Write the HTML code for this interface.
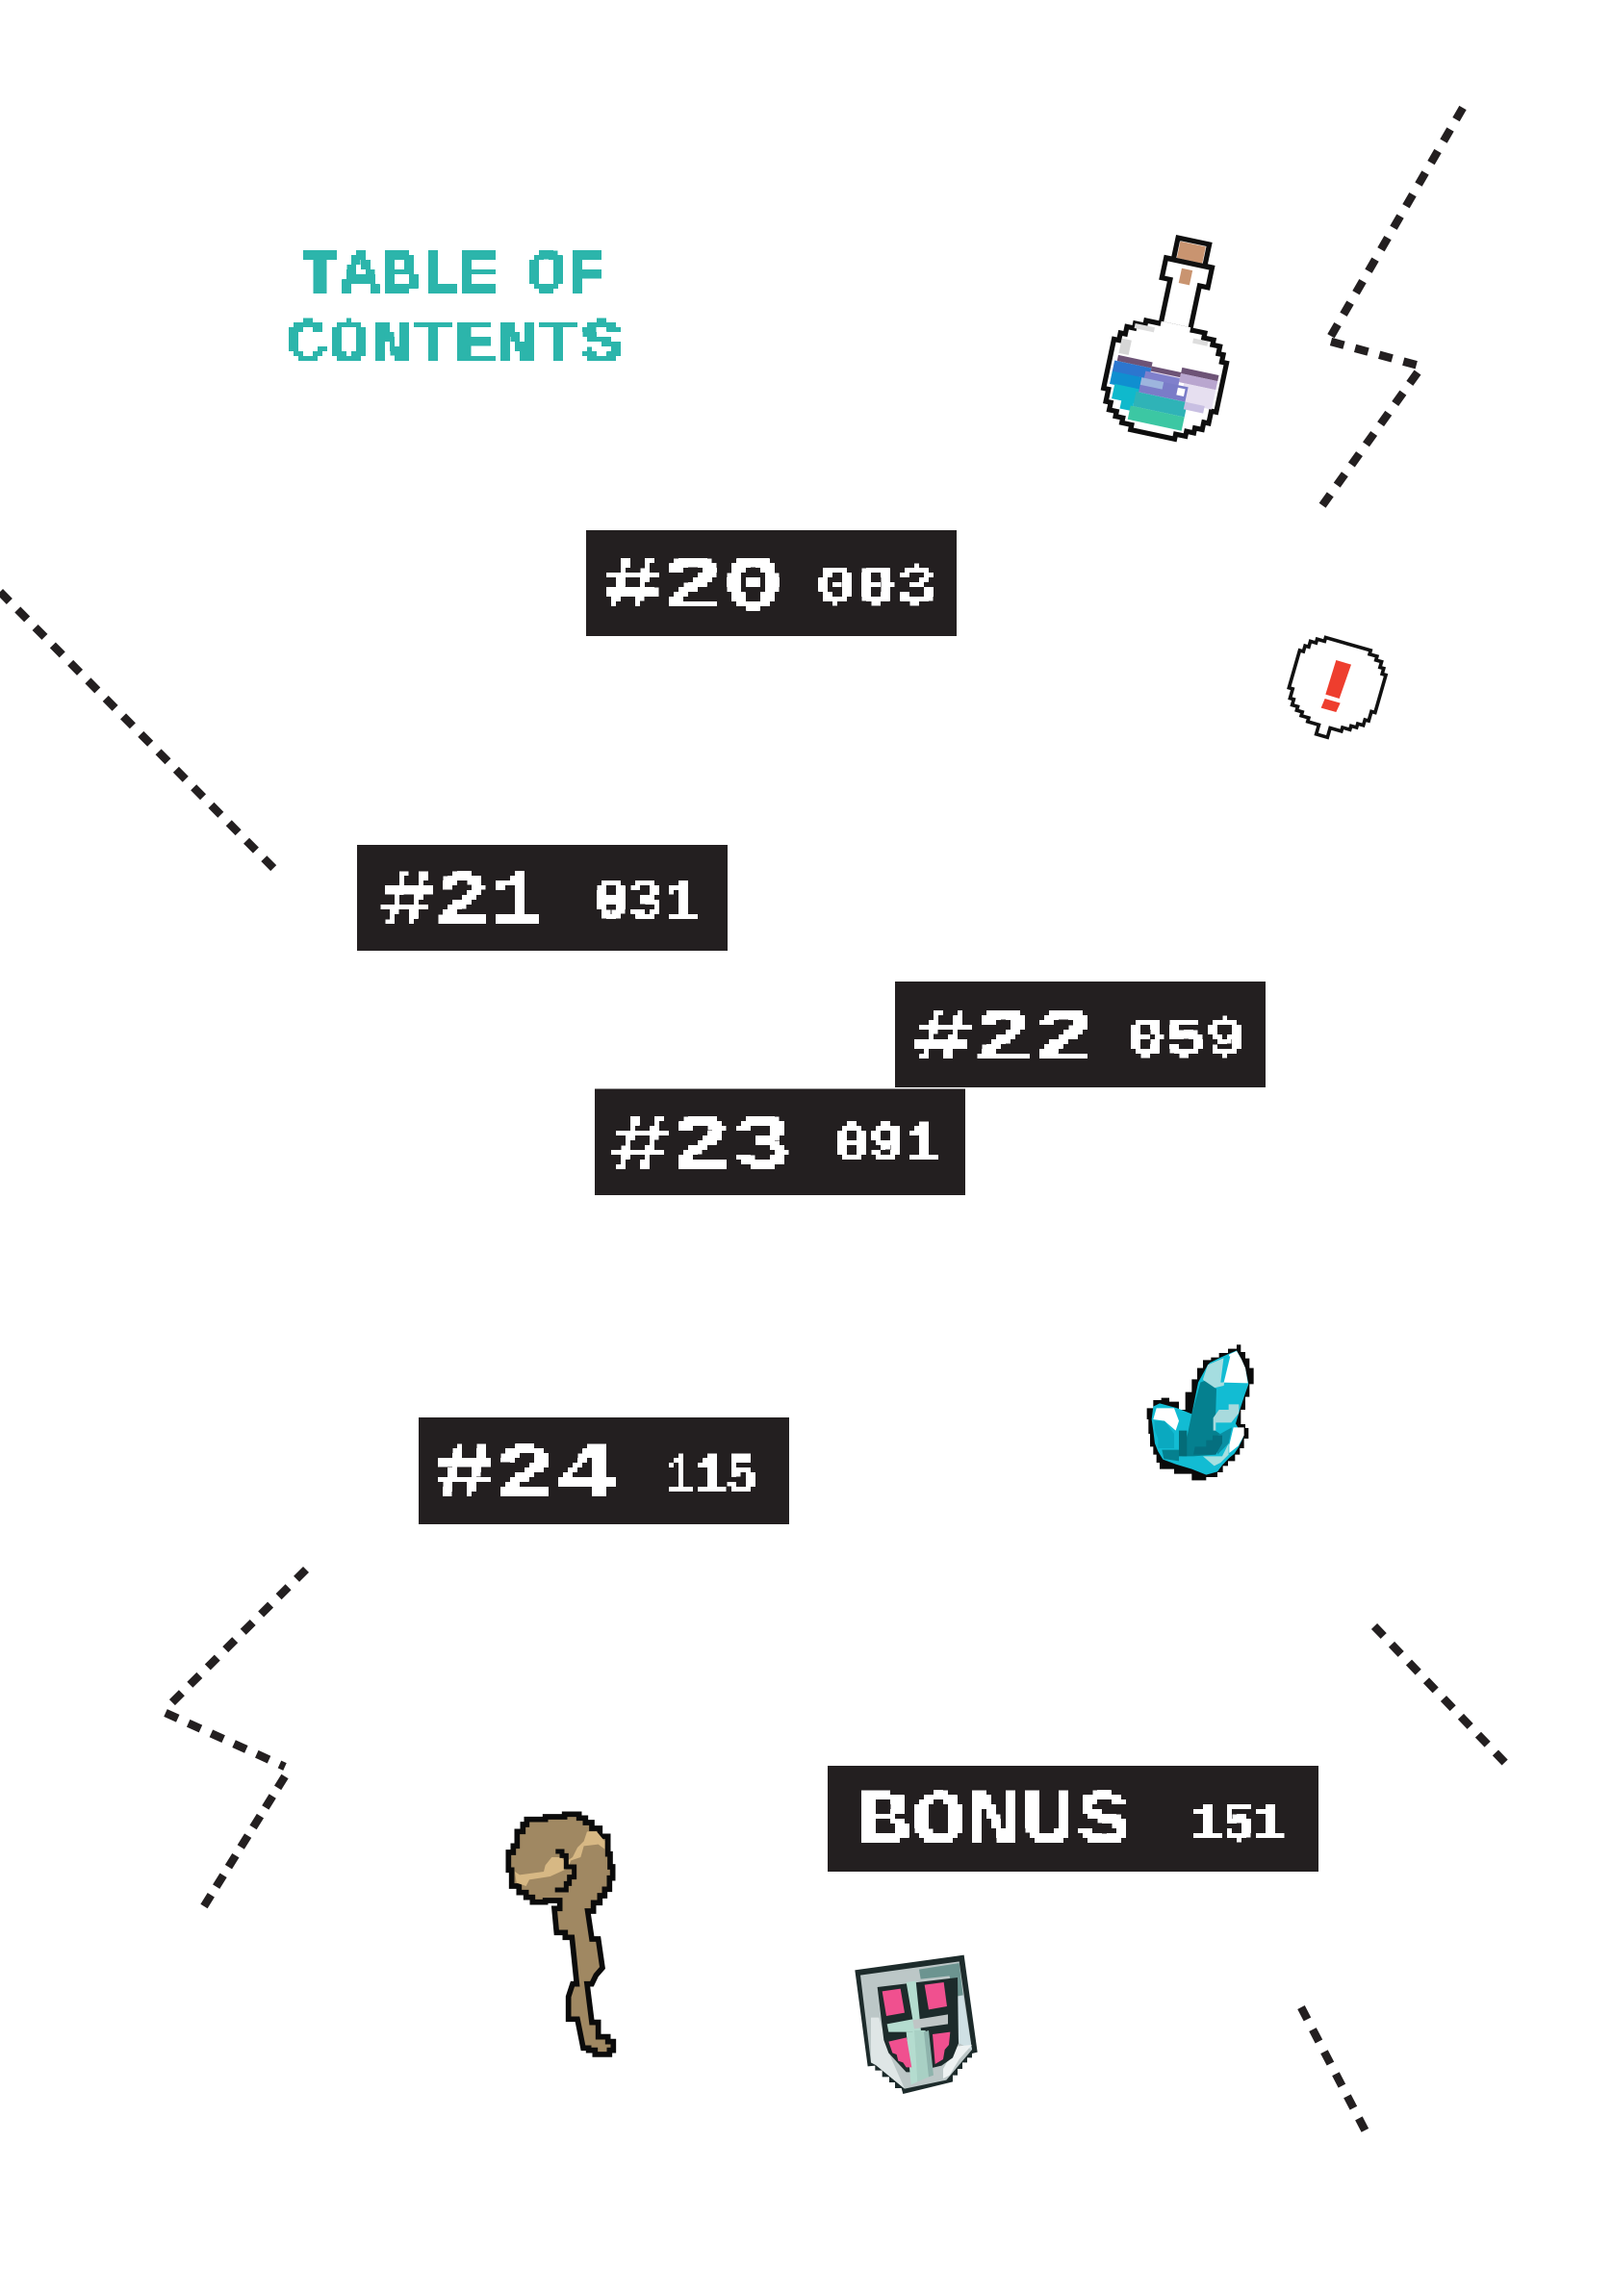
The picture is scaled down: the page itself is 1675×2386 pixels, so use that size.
<!DOCTYPE html>
<html><head><meta charset="utf-8"><style>
html,body{margin:0;padding:0;background:#fff}
svg{display:block}
text{font-family:"Liberation Mono",monospace;font-weight:700}
</style></head><body>
<svg xmlns="http://www.w3.org/2000/svg" width="1675" height="2386" viewBox="0 0 1675 2386">
<defs>
<filter id="px" filterUnits="userSpaceOnUse" x="0" y="0" width="1675" height="2386" color-interpolation-filters="sRGB">
<feFlood x="2" y="2" width="1" height="1" flood-color="#000"/>
<feComposite width="5" height="5"/>
<feTile result="g"/>
<feComposite in="SourceGraphic" in2="g" operator="in"/>
<feMorphology operator="dilate" radius="2"/>
<feComponentTransfer><feFuncA type="discrete" tableValues="0 1"/></feComponentTransfer>
</filter>
</defs>
<rect width="1675" height="2386" fill="#fff"/>

<!-- dashed lines -->
<g fill="none" stroke="#231f20" stroke-width="8.5" stroke-dasharray="14 12">
<line x1="1520" y1="112" x2="1382" y2="351"/>
<line x1="1383" y1="355" x2="1478" y2="381"/>
<line x1="1473" y1="387" x2="1370" y2="531"/>
<line x1="0" y1="615" x2="289" y2="907"/>
<line x1="318" y1="1631" x2="174" y2="1774"/>
<line x1="172" y1="1780" x2="296" y2="1836"/>
<line x1="296" y1="1846" x2="212" y2="1981" stroke-dasharray="14 10.2"/>
<line x1="1428" y1="1690" x2="1566" y2="1834"/>
<line x1="1352" y1="2086" x2="1419" y2="2215"/>
</g>

<!-- bars -->
<g fill="#231f20">
<rect x="609" y="551" width="385" height="110"/>
<rect x="371" y="878" width="385" height="110"/>
<rect x="930" y="1020" width="385" height="110"/>
<rect x="618" y="1131.5" width="385" height="110.5"/>
<rect x="435" y="1473" width="385" height="111"/>
<rect x="860" y="1835" width="510" height="110"/>
</g>

<!-- text -->
<g filter="url(#px)">
<g fill="#2cb5ab" font-size="63">
<text x="312" y="303" textLength="318" lengthAdjust="spacingAndGlyphs" word-spacing="-12">TABLE OF</text>
<text x="297" y="375" textLength="350" lengthAdjust="spacingAndGlyphs">CONTENTS</text>
</g>
<g fill="#fff" font-size="80">
<text x="625" y="632" textLength="189" lengthAdjust="spacingAndGlyphs">#20</text>
<text x="395" y="960" textLength="171" lengthAdjust="spacingAndGlyphs">#21</text>
<text x="948" y="1102" textLength="189" lengthAdjust="spacingAndGlyphs">#22</text>
<text x="634" y="1213" textLength="189" lengthAdjust="spacingAndGlyphs">#23</text>
<text x="451" y="1555" textLength="190" lengthAdjust="spacingAndGlyphs">#24</text>
<text x="890" y="1915" textLength="285" lengthAdjust="spacingAndGlyphs">BONUS</text>
</g>
<g fill="#fff" font-size="58">
<text x="848" y="627" textLength="125" lengthAdjust="spacingAndGlyphs">003</text>
<text x="617" y="954" textLength="109" lengthAdjust="spacingAndGlyphs">031</text>
<text x="1170" y="1097" textLength="124" lengthAdjust="spacingAndGlyphs">059</text>
<text x="867" y="1206" textLength="109" lengthAdjust="spacingAndGlyphs">091</text>
<text x="690" y="1551" textLength="97" lengthAdjust="spacingAndGlyphs">115</text>
<text x="1238" y="1912" textLength="97" lengthAdjust="spacingAndGlyphs">151</text>
</g>
</g>

<!-- potion -->
<g transform="translate(1209 398) rotate(12) scale(5.2)">
<path d="M-6-11.5H6V-10.5H8V-9.5H9.5V-8H10.5V-6.5H11.5V3.5H10.5V6H9.5V7.5H8V8.5H6.5V9.5H4.5V10.5H-4.5V9.5H-6.5V8.5H-8V7.5H-9.5V6H-10.5V3.5H-11.5V-6.5H-10.5V-8H-9.5V-9.5H-8V-10.5H-6Z" fill="#fff" stroke="#0e0e0e" stroke-width="1"/>
<rect x="-10" y="-7" width="2" height="3" fill="#d6d6d6"/>
<rect x="-8" y="-10.5" width="4" height="1" fill="#ddd"/>
<rect x="4" y="-10" width="3" height="1" fill="#ddd"/>
<rect x="-10" y="-3.6" width="7" height="1.2" fill="#6d5376"/>
<rect x="-3" y="-2.8" width="6" height="1.2" fill="#6d5376"/>
<rect x="3" y="-3.8" width="7.5" height="1.2" fill="#6d5376"/>
<rect x="3" y="-2.6" width="7.5" height="1.8" fill="#b9a6cf"/>
<rect x="-3" y="-1.8" width="6" height="1" fill="#e8dff0"/>
<rect x="4" y="-.8" width="6.5" height="4" fill="#e6dff0"/>
<rect x="-10.5" y="-2.4" width="7.5" height="2.4" fill="#2c76cf"/>
<rect x="-4" y="-1.6" width="7" height="2" fill="#8080cc"/>
<rect x="-5" y="-.2" width="10" height="3" fill="#7a7cc8"/>
<rect x="-5" y="-.2" width="5" height="1.5" fill="#9db5de"/>
<rect x="3" y=".3" width="1.5" height="1.5" fill="#fff"/>
<rect x="-10.5" y="-.2" width="6" height="2.6" fill="#0f8fd0"/>
<rect x="-9.5" y="2.2" width="5" height="3" fill="#0fb9cc"/>
<rect x="-5" y="2.8" width="10.5" height="3" fill="#2fb3b7"/>
<rect x="-7.5" y="4.8" width="2.5" height="2" fill="#0fb9cc"/>
<rect x="-5.5" y="5.8" width="11" height="2.8" fill="#3cc7a3"/>
<rect x="5" y="2.8" width="4" height="1.5" fill="#c8bfe2"/>
<path d="M-3-11.5V-20.5H-4.7V-24.6H-3.2V-29H3.2V-24.6H4.7V-20.5H3V-11.5Z" fill="#fff" stroke="#0e0e0e" stroke-width="1"/>
<rect x="-3" y="-12" width="6" height="1.3" fill="#fff"/>
<rect x="-2.6" y="-28.4" width="5.2" height="3.4" fill="#c99470"/>
<rect x="-4.2" y="-25" width="8.4" height="1" fill="#111"/>
<rect x="-1.2" y="-23.2" width="2.2" height="3" fill="#c99470"/>
</g>

<!-- bubble -->
<g transform="translate(1388 714) rotate(16) scale(4.05)">
<path d="M-6-11.5H6V-10.5H8V-9.5H9.5V-8H10.5V-6.5H11.5V3.5H10.5V6H9.5V7.5H8V8.5H6.5V9.5H4.5V10.5H1.5V13H-1.5V10.5H-4.5V9.5H-6.5V8.5H-8V7.5H-9.5V6H-10.5V3.5H-11.5V-6.5H-10.5V-8H-9.5V-9.5H-8V-10.5H-6Z" fill="#fff" stroke="#111" stroke-width=".9"/>
</g>
<g fill="#ee3e2e" transform="translate(1320 640) scale(.3333)">
<polygon points="205,138 252,152 215,258 172,245"/>
<polygon points="170,258 218,272 205,300 158,287"/>
</g>

<!-- crystal -->
<g transform="translate(1170 1380) scale(.3333)">
<path d="M240 100H265V92H290V78H318V65H345V52H358V75H372V95H385V125H398V175H385V215H372V255H358V300H372V312H382V345H368V375H355V395H340V415H318V430H302V450H285V465H250V475H205V455H150V440H105V420H95V395H85V370H75V330H70V285H65V250H85V225H110V218H135V230H165V255H185V200H205V160H222V125H240Z" fill="#0a0a0a"/>
<path d="M255 115 262 108 295 92 322 80 345 70 360 98 372 125 382 175 368 215 355 255 342 298 366 340 352 370 338 392 322 405 300 428 285 448 250 458 205 440 155 425 115 410 100 385 90 360 85 320 80 285 85 245 105 235 160 250 205 268 225 170Z" fill="#12bcd3"/>
<path d="M255 115 318 88 305 180 262 190 240 160Z" fill="#a5dde0"/>
<path d="M322 82 345 72 360 98 372 125 380 172 300 170Z" fill="#fff"/>
<path d="M305 88H325L305 170H295Z" fill="#12bcd3"/>
<path d="M232 170 245 165 282 190 278 320 300 335 300 360 280 395 210 400 175 400 165 345 190 340 205 268Z" fill="#05808f"/>
<path d="M290 255H320V238H352V265L328 295H295 280V320H272V280Z" fill="#a8dadd"/>
<path d="M285 335 330 310 320 360 285 395Z" fill="#0a8fa3"/>
<path d="M240 400H300L320 360V395L295 420 275 430Z" fill="#a5e0e0"/>
<path d="M215 370H250V350H270V335H300V360L280 395H210Z" fill="#056f7f"/>
<path d="M95 250H150L165 290 155 320 120 290 85 285Z" fill="#fff"/>
<path d="M88 290H120L150 330V375H115 100V345L90 320Z" fill="#0aa9c0"/>
<path d="M112 380H165V415L118 408Z" fill="#05808f"/>
<path d="M165 320H190V400H165Z" fill="#046c78"/>
<path d="M335 310H368V335L350 368 322 390V365Z" fill="#fff"/>
</g>

<!-- staff -->
<g transform="translate(500 1860) scale(.3333)">
<path d="M142 92H200V84H260V76H305V88H325V102H345V120H370V145H395V200H402V240H410V275H400V310H385V330H370V352H350V378H332L345 465H365L378 555 358 578 345 605H330L345 725H365V770H395V785H412V812H400V825H355V812H335V805H318L300 715H272V645L285 605H298L283 460H262V445H235L228 370H245V345H200V350H160V335H140V320H118V300H95V250H85V195H100V175H112V130H130V108H142Z" fill="#a08862" stroke="#0b0b0b" stroke-width="17" stroke-linejoin="miter"/>
<path d="M105 255L120 265 195 255 200 235 220 210 250 210 262 225 285 210 300 180 320 160 330 130 360 130 385 160 385 185 365 170 320 175 310 210 280 220 270 245 215 270 150 280 140 300 110 290Z" fill="#d7b884"/>
<g fill="none" stroke="#0b0b0b" stroke-width="15">
<path d="M232 192H252V205H265V240H290V272H275V292H265V312H230"/>
</g>
</g>

<!-- shield -->
<g transform="translate(870 2010) scale(.3333)">
<path d="M55 112L395 65 437 368 420 372 420 385 405 385 405 400 390 400 390 420 375 420 375 440 360 440 360 460 340 465 205 498 200 480 180 480 180 462 162 462 162 445 140 445 140 425 118 425 118 410 95 412Z" fill="#1d2b2b"/>
<path d="M72 128L380 85 420 360 340 455 210 482 120 408 105 400Z" fill="#bcc7c7"/>
<path d="M255 110L380 90 392 190 360 195 350 130 260 140Z" fill="#6c9490"/>
<path d="M360 200 392 190 420 360 380 340Z" fill="#cfe0e4"/>
<path d="M105 260H130L165 380 210 482 120 408 105 400Z" fill="#dfe6e6"/>
<path d="M330 450 350 440 380 390 420 345 370 350 330 420Z" fill="#eef2f2"/>
<path d="M125 165 375 135 378 340 360 385 325 410 240 430 215 430 160 370 145 330Z" fill="#1d2b2b"/>
<path d="M215 150 245 146 275 440 245 455 235 305 160 305 155 280 235 265Z" fill="#b4dccf"/>
<path d="M240 295 345 280 345 250 235 268Z" fill="#bfc5c5"/>
<path d="M215 305 240 305 250 460 230 470Z" fill="#b4dccf"/>
<path d="M240 300 275 300 285 445 250 460Z" fill="#a8d0c4"/>
<path d="M270 305 285 300 300 440 285 445Z" fill="#8eb3ac"/>
<path d="M140 178 197 170 210 245 153 255Z" fill="#f0508f"/>
<path d="M272 158 332 150 342 225 285 235Z" fill="#f0508f"/>
<path d="M160 335 216 322 232 415 215 415 205 400 190 395 185 375 172 370Z" fill="#f0508f"/>
<path d="M297 312 352 305 348 345 335 360 330 390 305 405Z" fill="#f0508f"/>
</g>
</svg>
</body></html>
